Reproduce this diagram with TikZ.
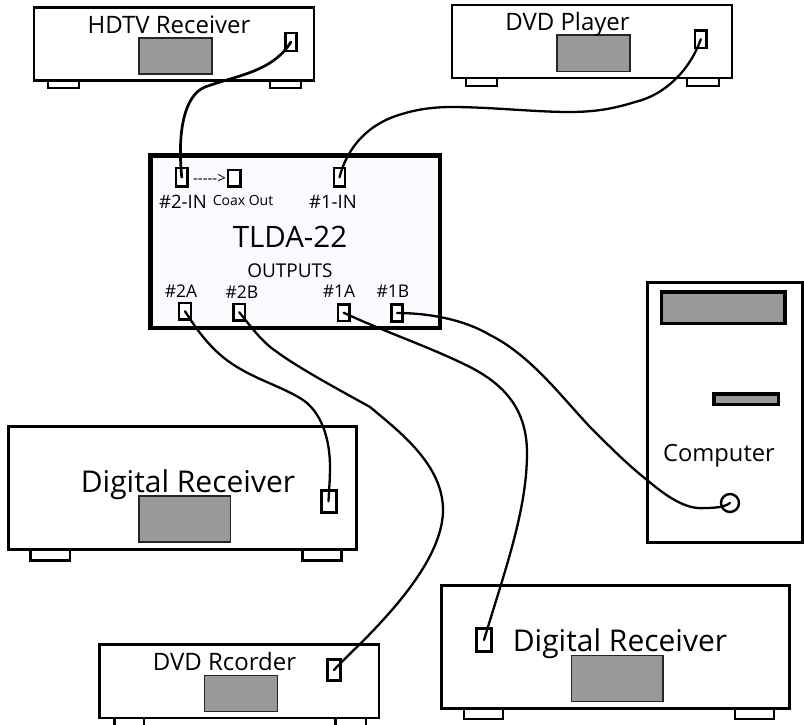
\documentclass[tikz,border=0pt]{standalone}
\usepackage{fontspec}
\setmainfont{Open Sans}
\definecolor{screen}{HTML}{999999}
\definecolor{panel}{HTML}{FBFBFF}
\newcommand{\Rct}[6]{\node[#1,minimum width={(#5-#3)*1pt},minimum height={(#6-#4)*1pt}] (#2) at ({(#3+#5)/2},{(#4+#6)/2}) {};}
\newcommand{\Lbl}[5]{\node[lbl,font=\fontsize{#1}{#1}\selectfont] (#2) at (#3,#4) {#5};}
\tikzset{
  rbox/.style={draw=black,fill=white,line width=2.4pt,inner sep=0pt,outer sep=0pt,rectangle},
  bigbox/.style={rbox,line width=3pt},
  foot/.style={rbox,line width=2.2pt},
  bigfoot/.style={rbox,line width=2.4pt},
  scr/.style={draw=black!85,fill=screen,line width=1.1pt,inner sep=0pt,outer sep=0pt,rectangle},
  port/.style={rbox,line width=2.6pt},
  bigport/.style={rbox,line width=3pt},
  main/.style={rbox,fill=panel,line width=4.8pt},
  thick scr/.style={scr,draw=black,line width=3.2pt},
  lbl/.style={inner sep=0pt,outer sep=0pt,anchor=base,text=black},
  cable/.style={draw=black,line width=2.3pt,line cap=round},
  heavy cable/.style={cable,line width=2.7pt}
}
\begin{document}
\begin{tikzpicture}[x=1pt,y=-1pt]
\useasboundingbox (0,0) rectangle (804,724);
% HDTV receiver
\Rct{foot}{hf1}{48}{80}{79}{88}
\Rct{foot}{hf2}{270}{80}{301}{88}
\Rct{rbox}{hdtv}{34}{7.5}{314}{80.5}
\Rct{scr}{hs}{139}{38}{212}{74}
\Rct{port}{hp}{285.5}{33}{296.5}{51}
\Lbl{24}{ht}{169}{33}{HDTV Receiver}
% DVD player
\Rct{foot}{df1}{466}{78}{497}{86}
\Rct{foot}{df2}{687}{78}{719}{86}
\Rct{rbox}{dvd}{452}{5}{732}{78}
\Rct{scr}{ds}{557}{35}{630}{71.5}
\Rct{port}{dp}{695}{30.5}{706.5}{48}
\Lbl{24}{dt}{567.5}{30}{DVD Player}
% TLDA
\Rct{main}{tlda}{150.5}{155.5}{440}{328}
\Rct{port}{in2}{176}{168}{187.5}{186.5}
\Rct{port}{cox}{228}{170}{240.5}{186.5}
\Rct{port}{in1}{334}{168}{345}{186.5}
\Rct{port}{o2a}{179}{303}{191}{319.5}
\Rct{port}{o2b}{233.5}{304}{245}{320.5}
\Rct{port}{o1a}{338}{304.5}{349.5}{321}
\Rct{port}{o1b}{391.5}{304.5}{402.5}{321.5}
\Lbl{15}{ar}{209.5}{183}{-{}-{}-{}-{}->}
\Lbl{18.5}{l2in}{183}{208}{\#2-IN}
\Lbl{14}{lcx}{243}{205}{Coax Out}
\Lbl{18.5}{l1in}{333}{208}{\#1-IN}
\Lbl{29.5}{ltl}{290}{247}{TLDA-22}
\Lbl{19}{lou}{290}{277}{OUTPUTS}
\Lbl{17.5}{l2a}{181}{297}{\#2A}
\Lbl{17.5}{l2b}{242}{298}{\#2B}
\Lbl{17.5}{l1a}{339}{297}{\#1A}
\Lbl{17.5}{l1b}{393}{297}{\#1B}
% Digital receiver 1
\Rct{bigfoot}{af1}{30.5}{550}{70}{560.5}
\Rct{bigfoot}{af2}{302.5}{550}{341.5}{560.5}
\Rct{bigbox}{dr1}{8}{426}{356}{549.5}
\Rct{scr}{as}{139}{496}{230.5}{542}
\Rct{bigport}{ap}{321}{490}{336}{512.5}
\Lbl{30}{at}{188}{492}{Digital Receiver}
% Digital receiver 2
\Rct{bigfoot}{bf1}{464}{709}{503}{719}
\Rct{bigfoot}{bf2}{735}{709}{774}{719}
\Rct{bigbox}{dr2}{441}{585}{789}{708}
\Rct{scr}{bs}{571.5}{655.5}{663}{701.5}
\Rct{bigport}{bp}{476.5}{628.5}{491.5}{651.5}
\Lbl{30}{bt}{620}{651}{Digital Receiver}
% DVD recorder
\Rct{foot}{rf1}{114.5}{718}{144}{730}
\Rct{foot}{rf2}{335.5}{718}{366}{730}
\Rct{rbox}{rec}{99.5}{644.5}{379}{718}
\Rct{scr}{rs}{204.5}{675.5}{277.5}{711.5}
\Rct{port}{rp}{327.5}{659.5}{340.5}{680.5}
\Lbl{24}{rt}{224.5}{670}{DVD Rcorder}
% Computer
\Rct{bigbox}{pc}{647.5}{282}{802.5}{542.5}
\Rct{thick scr}{pd}{661.5}{292}{785}{323.5}
\Rct{thick scr}{ps}{714}{394}{778.5}{404.5}
\Lbl{23.7}{pt}{719}{461}{Computer}
\node[draw=black,fill=white,line width=2.4pt,circle,inner sep=0pt,outer sep=0pt,minimum size=18pt] (pj) at (730,503) {};
% Cables
\draw[heavy cable] (hp.center) .. controls (272,72) and (238,75) .. (205,87) .. controls (185,95) and (177,130) .. (in2.center);
\draw[cable] (dp.center) .. controls (690,70) and (665,95) .. (635,102) .. controls (610,110) and (590,112) .. (569,112) .. controls (535,112) and (490,107) .. (452,107) .. controls (435,107) and (418,109) .. (402,114) .. controls (370,123) and (348,145) .. (in1.center);
\draw[cable] (o2a.center) .. controls (197,330) and (212,352) .. (237,367) .. controls (260,381) and (285,388) .. (303,400) .. controls (322,413) and (330,440) .. (330,467) .. controls (330,480) and (329,490) .. (ap.center);
\draw[cable] (o2b.center) .. controls (252,328) and (262,342) .. (277,352) .. controls (300,369) and (345,393) .. (370,407) .. controls (400,432) and (443,465) .. (443,510) .. controls (443,545) and (415,585) .. (383,620) .. controls (365,640) and (345,658) .. (rp.center);
\draw[cable] (o1a.center) .. controls (385,332) and (430,347) .. (470,367) .. controls (505,385) and (527,410) .. (527,453) .. controls (527,510) and (505,570) .. (bp.center);
\draw[cable] (o1b.center) .. controls (430,313) and (465,320) .. (490,335) .. controls (530,355) and (560,395) .. (590,427) .. controls (610,447) and (628,465) .. (647,480) .. controls (665,495) and (685,510) .. (705,508) .. controls (715,508) and (725,507) .. (pj.center);
\end{tikzpicture}
\end{document}
